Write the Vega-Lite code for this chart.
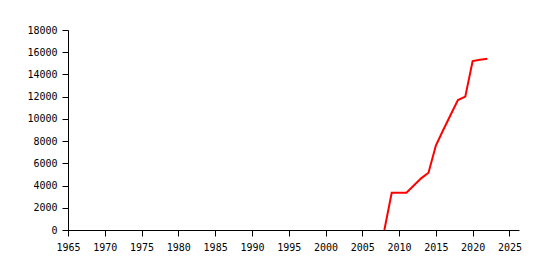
{
  "$schema": "https://vega.github.io/schema/vega-lite/v6.json",
  "autosize": {"type": "none"},
  "padding": {"left": 68, "top": 30, "right": 27, "bottom": 40},
  "width": 451,
  "height": 200,
  "background": "white",
  "config": {
    "view": {"stroke": null},
    "axis": {
      "labelFont": "DejaVu Sans Mono",
      "labelFontSize": 10,
      "labelColor": "black",
      "domainColor": "black",
      "tickColor": "black",
      "grid": false,
      "tickSize": 6,
      "domainWidth": 1,
      "tickWidth": 1
    }
  },
  "data": {
    "values": [
      {"year": 2008, "value": 0},
      {"year": 2009, "value": 3350},
      {"year": 2011, "value": 3350},
      {"year": 2013, "value": 4650},
      {"year": 2014, "value": 5150},
      {"year": 2015, "value": 7600},
      {"year": 2016, "value": 9000},
      {"year": 2017, "value": 10350},
      {"year": 2018, "value": 11700},
      {"year": 2019, "value": 12000},
      {"year": 2020, "value": 15200},
      {"year": 2021, "value": 15330},
      {"year": 2022, "value": 15420}
    ]
  },
  "mark": {"type": "line", "color": "#ff0000", "strokeWidth": 2},
  "encoding": {
    "x": {
      "field": "year",
      "type": "quantitative",
      "scale": {"domain": [1965, 2026.3], "nice": false, "zero": false},
      "axis": {
        "title": null,
        "values": [1965, 1970, 1975, 1980, 1985, 1990, 1995, 2000, 2005, 2010, 2015, 2020, 2025],
        "format": "d",
        "labelPadding": 6,
        "labelFlush": false,
        "labelOverlap": false
      }
    },
    "y": {
      "field": "value",
      "type": "quantitative",
      "scale": {"domain": [0, 18000], "nice": false},
      "axis": {
        "title": null,
        "values": [0, 2000, 4000, 6000, 8000, 10000, 12000, 14000, 16000, 18000],
        "format": "d",
        "labelPadding": 5,
        "labelOverlap": false
      }
    }
  }
}
